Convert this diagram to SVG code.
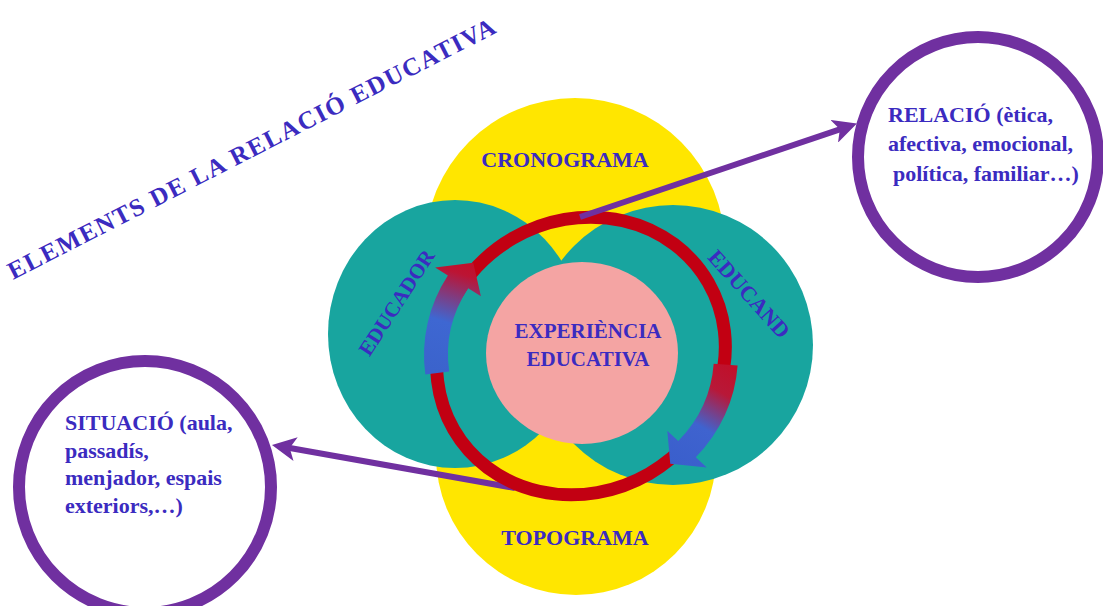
<svg xmlns="http://www.w3.org/2000/svg" width="1103" height="606" viewBox="0 0 1103 606">
  <style>
    .t { font-family: "Liberation Serif", "Times New Roman", serif; font-weight: bold; fill: #3b2bc0; }
    .yellow { fill: #ffe600; }
    .teal { fill: #18a59f; }
    .pink { fill: #f4a4a3; }
    .ring { fill: none; stroke: #c20012; stroke-width: 13; }
    .conn { fill: none; stroke: #7030a0; stroke-width: 6; }
    .bubble { fill: #ffffff; stroke: #7030a0; stroke-width: 12; }
  </style>
  <defs>
    <marker id="head" viewBox="0 0 24 24" markerUnits="userSpaceOnUse" markerWidth="24" markerHeight="24" refX="13" refY="12" orient="auto">
      <path d="M0,0 L24,12 L0,24 L6,12 Z" fill="#7030a0"/>
    </marker>
    <linearGradient id="gLeft" gradientUnits="userSpaceOnUse" x1="437" y1="372" x2="470" y2="265">
      <stop offset="0" stop-color="#3b63cc"/>
      <stop offset="0.45" stop-color="#3e67d2"/>
      <stop offset="0.9" stop-color="#bc1434"/>
      <stop offset="1" stop-color="#c0102a"/>
    </linearGradient>
    <linearGradient id="gRight" gradientUnits="userSpaceOnUse" x1="728" y1="364" x2="672" y2="462">
      <stop offset="0" stop-color="#c0102a"/>
      <stop offset="0.25" stop-color="#b81838"/>
      <stop offset="0.6" stop-color="#3f63cf"/>
      <stop offset="1" stop-color="#3a5fcc"/>
    </linearGradient>
  </defs>

  <g id="title">
    <text class="t" x="13" y="280" font-size="25" textLength="544" lengthAdjust="spacing" transform="rotate(-27.1 13 280)">ELEMENTS DE LA RELACIÓ EDUCATIVA</text>
  </g>

  <g id="cronograma">
    <circle class="yellow" cx="575" cy="248" r="150"/>
    <text class="t" x="565" y="167" font-size="22" text-anchor="middle">CRONOGRAMA</text>
  </g>
  <g id="topograma">
    <circle class="yellow" cx="576" cy="455" r="140"/>
    <text class="t" x="575" y="545" font-size="22" text-anchor="middle">TOPOGRAMA</text>
  </g>
  <g id="educador">
    <ellipse class="teal" cx="455" cy="334" rx="127" ry="134"/>
    <text class="t" x="402.6" y="306.3" font-size="21" text-anchor="middle" transform="rotate(-57 402.6 306.3)">EDUCADOR</text>
  </g>
  <g id="educand">
    <circle class="teal" cx="673" cy="345" r="140"/>
    <text class="t" x="743.5" y="298.9" font-size="22" text-anchor="middle" transform="rotate(48 743.5 298.9)">EDUCAND</text>
  </g>
  <g id="experiencia">
    <ellipse class="pink" cx="582" cy="353" rx="96" ry="91"/>
    <text class="t" x="588" y="338" font-size="21" text-anchor="middle">EXPERIÈNCIA</text>
    <text class="t" x="588" y="366" font-size="21" text-anchor="middle">EDUCATIVA</text>
  </g>

  <g id="connectors-under">
    <line class="conn" x1="515" y1="488" x2="282.8" y2="446.8" marker-end="url(#head)"/>
  </g>

  <g id="cycle">
    <ellipse class="ring" cx="581" cy="356" rx="147" ry="136" transform="rotate(-30 581 356)"/>
    <path d="M425.34,374.58 A157,150 0 0 1 447.86,275.51 L435.14,267.56 L473.24,262.66 L480.93,296.18 L468.21,288.23 A133,126 0 0 0 449.14,371.45 Z" fill="url(#gLeft)"/>
    <path d="M737.62,365.46 A157,150 0 0 1 695.82,457.3 L706.79,467.53 L670.27,463.75 L667.3,430.7 L678.27,440.93 A133,126 0 0 0 713.68,363.79 Z" fill="url(#gRight)"/>
  </g>

  <g id="connectors">
    <line class="conn" x1="580" y1="217" x2="846.5" y2="127.1" marker-end="url(#head)"/>
  </g>

  <g id="relacio">
    <circle class="bubble" cx="978" cy="157" r="120"/>
    <text class="t" font-size="22">
      <tspan x="888" y="122">RELACIÓ (ètica,</tspan>
      <tspan x="888" y="151">afectiva, emocional,</tspan>
      <tspan x="893" y="181">política, familiar…)</tspan>
    </text>
  </g>

  <g id="situacio">
    <circle class="bubble" cx="145" cy="487" r="126"/>
    <text class="t" font-size="22">
      <tspan x="65" y="430">SITUACIÓ (aula,</tspan>
      <tspan x="65" y="457.5">passadís,</tspan>
      <tspan x="65" y="485">menjador, espais</tspan>
      <tspan x="65" y="512.5">exteriors,…)</tspan>
    </text>
  </g>
</svg>
